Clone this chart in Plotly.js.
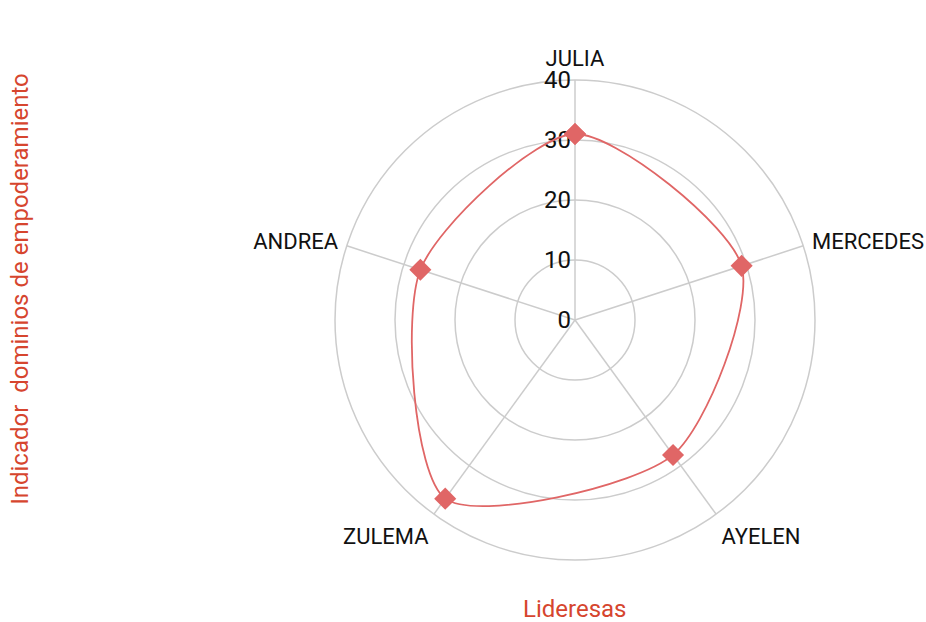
<!DOCTYPE html>
<html>
<head>
<meta charset="utf-8">
<script src="https://cdn.plot.ly/plotly-3.0.1.min.js"></script>
<style>html,body{margin:0;padding:0;background:#fff;}#chart{width:926px;height:622px;}</style>
</head>
<body>
<div id="chart"></div>
<script>
const categories = ["JULIA", "MERCEDES", "AYELEN", "ZULEMA", "ANDREA"];
const values = [31, 29.2, 27.8, 36.8, 27.1];
const radialTicks = [0, 10, 20, 30, 40];
const xTitle = "Lideresas";
const yTitle = "Indicador  dominios de empoderamiento";

const thetaClosed = categories.concat([categories[0]]);
const rClosed = values.concat([values[0]]);

const titleColor = "#D6452E";
const seriesColor = "#E06666";
const gridColor = "#CCCCCC";
const font = "Roboto, 'Open Sans', sans-serif";

const trace = {
  type: "scatterpolar",
  r: rClosed,
  theta: thetaClosed,
  mode: "lines+markers",
  line: {color: seriesColor, width: 1.8, shape: "spline", smoothing: 0.75},
  marker: {symbol: "diamond", size: 17, color: seriesColor},
  hoverinfo: "r+theta",
  showlegend: false
};

const layout = {
  width: 926, height: 622,
  margin: {l: 335, r: 111, t: 80, b: 62, pad: 0},
  paper_bgcolor: "#fff",
  font: {family: font, size: 24, color: "#111"},
  showlegend: false,
  polar: {
    bgcolor: "rgba(0,0,0,0)",
    domain: {x: [0, 1], y: [0, 1]},
    radialaxis: {
      range: [0, 40],
      tickvals: radialTicks,
      ticktext: radialTicks.map(String),
      angle: 90,
      tickangle: 90,
      side: "counterclockwise",
      showline: false,
      ticks: "",
      gridcolor: gridColor,
      gridwidth: 1.5,
      tickfont: {family: font, size: 24, color: "#111"},
      layer: "below traces"
    },
    angularaxis: {
      rotation: 90,
      direction: "clockwise",
      showline: true,
      linecolor: gridColor,
      linewidth: 1.5,
      gridcolor: gridColor,
      gridwidth: 1.5,
      ticks: "outside",
      ticklen: 4,
      tickcolor: "rgba(0,0,0,0)",
      tickfont: {family: font, size: 22, color: "#111"},
      layer: "below traces"
    }
  },
  annotations: [
    {text: xTitle, xref: "paper", yref: "paper", x: 0.5, y: 0, yshift: -49, xanchor: "center", yanchor: "middle",
     showarrow: false, font: {family: font, size: 24, color: titleColor}},
    {text: yTitle, xref: "paper", yref: "paper", x: 0, xshift: -315, y: 0.565, xanchor: "center", yanchor: "middle",
     textangle: -90, showarrow: false, font: {family: font, size: 24, color: titleColor}}
  ]
};

Plotly.newPlot("chart", [trace], layout, {displayModeBar: false, staticPlot: true});
</script>
</body>
</html>
